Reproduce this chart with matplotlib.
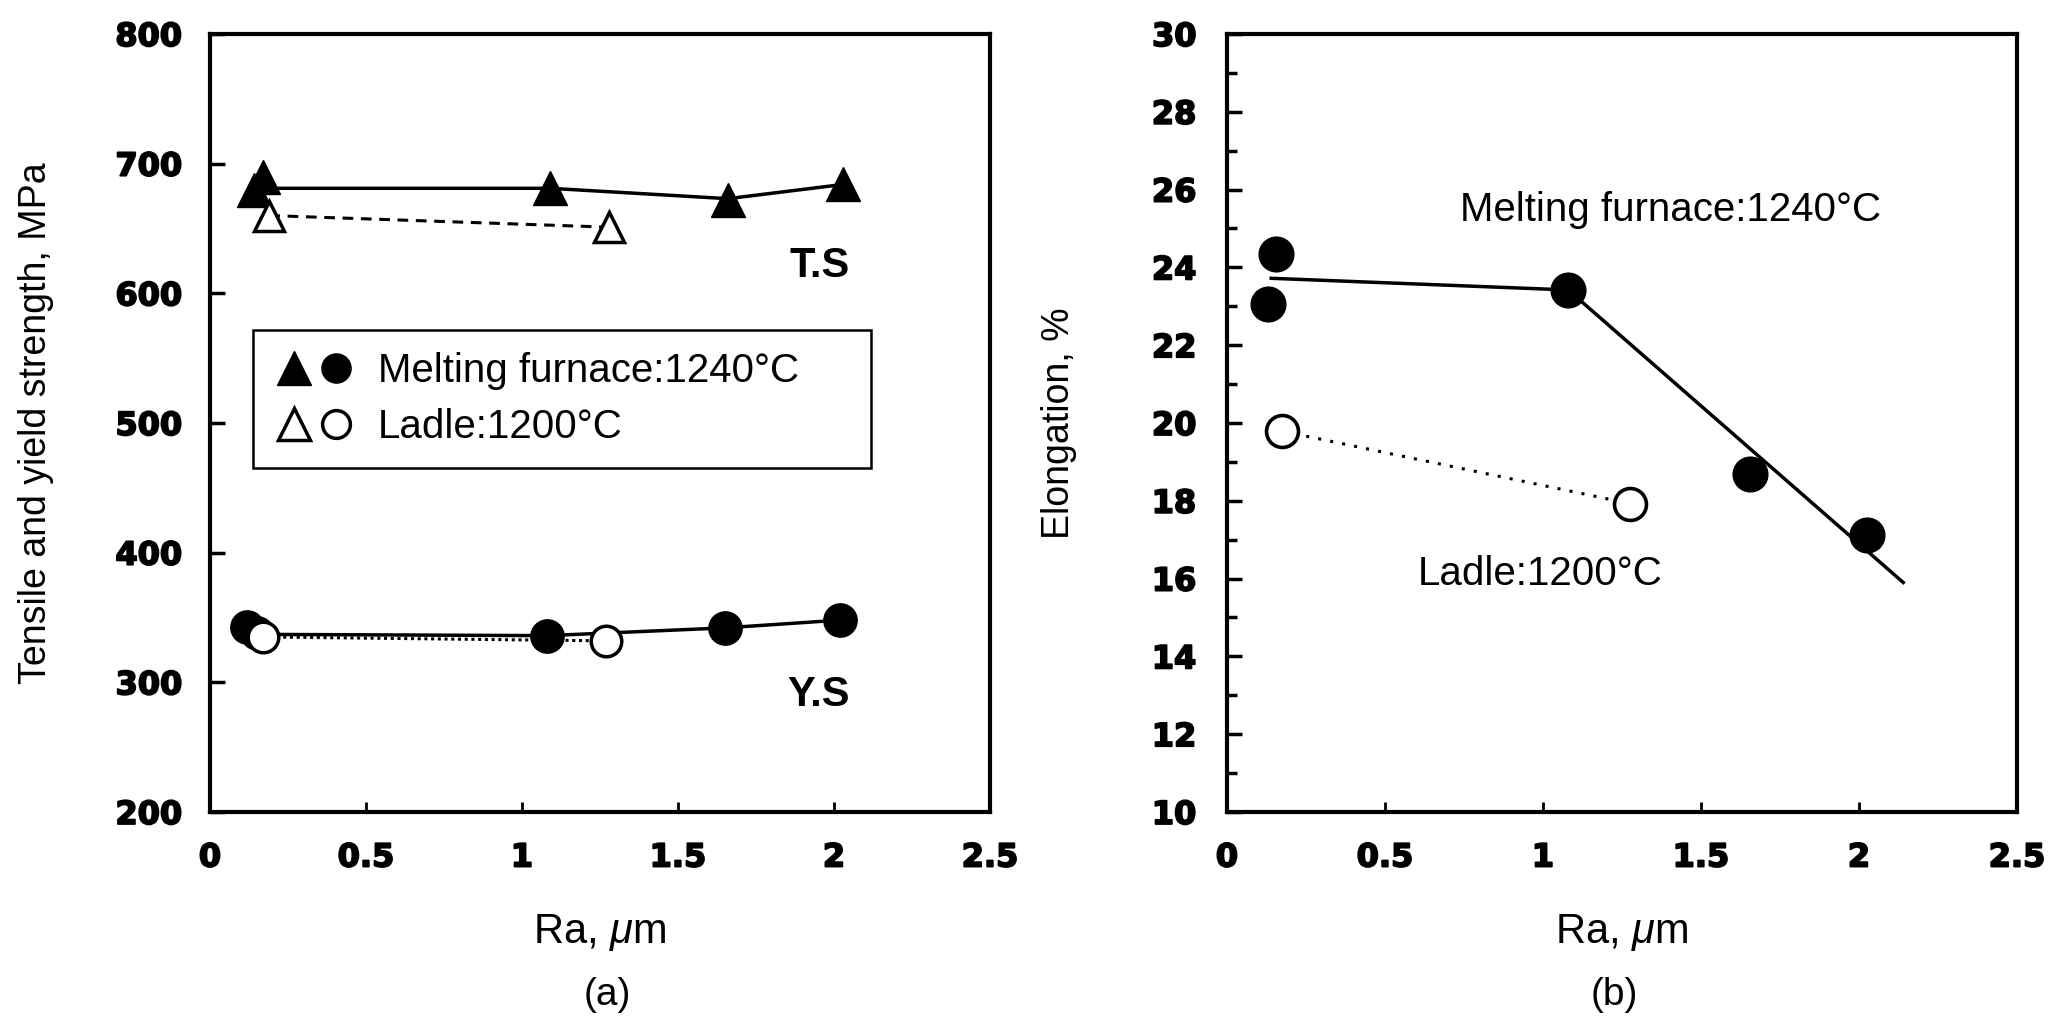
import matplotlib
matplotlib.use('Agg')
import matplotlib.pyplot as plt
import matplotlib.patheffects as pe
from matplotlib.lines import Line2D
from matplotlib.legend_handler import HandlerTuple
from matplotlib.ticker import MultipleLocator, FuncFormatter

plt.rcParams['font.family'] = ['Liberation Sans', 'DejaVu Sans']
plt.rcParams['mathtext.fontset'] = 'custom'
plt.rcParams['mathtext.rm'] = 'Liberation Sans'
plt.rcParams['mathtext.it'] = 'Liberation Sans:italic'

# ---------------- data ----------------
# (a) tensile strength
ts_furnace_x = [0.14, 0.17, 1.09, 1.66, 2.03]
ts_furnace = [680, 690, 681, 672, 684]
ts_furnace_line_x = [0.16, 1.09, 1.66, 2.03]
ts_furnace_line = [681, 681, 673, 684]
ts_ladle_x = [0.19, 1.28]
ts_ladle = [660, 651]
# (a) yield strength
ys_furnace_x = [0.12, 0.15, 1.08, 1.65, 2.02]
ys_furnace = [343, 338, 336, 342, 348]
ys_furnace_line_x = [0.15, 1.08, 1.65, 2.02]
ys_furnace_line = [337, 336, 342, 348]
ys_ladle_x = [0.17, 1.27]
ys_ladle = [335, 332]
# (b) elongation
el_furnace_x = [0.13, 0.155, 1.08, 1.655, 2.025]
el_furnace = [23.05, 24.35, 23.42, 18.68, 17.13]
el_furnace_line_x = [0.14, 1.08, 2.14]
el_furnace_line = [23.72, 23.42, 15.9]
el_ladle_x = [0.175, 1.275]
el_ladle = [19.79, 17.93]

x_ticks = [0, 0.5, 1, 1.5, 2, 2.5]
ya_ticks = [200, 300, 400, 500, 600, 700, 800]
yb_ticks = [10, 12, 14, 16, 18, 20, 22, 24, 26, 28, 30]

legend_labels = ['Melting furnace:1240\u00b0C', 'Ladle:1200\u00b0C']

# ---------------- figure ----------------
W, H = 2054, 1018
fig = plt.figure(figsize=(W / 100, H / 100), dpi=100)

axa = fig.add_axes([210 / W, 1 - 812 / H, 780 / W, 778 / H])
axb = fig.add_axes([1227 / W, 1 - 812 / H, 790 / W, 778 / H])

TXT = 28
fmt = FuncFormatter(lambda v, p: f'{v:g}')
heavy = [pe.withStroke(linewidth=1.3, foreground='black')]


def style_ticklabels(ax):
    for lab in ax.get_xticklabels() + ax.get_yticklabels():
        lab.set_fontfamily('DejaVu Sans')
        lab.set_fontweight('bold')
        lab.set_fontsize(23)
        lab.set_path_effects(heavy)


for ax in (axa, axb):
    for s in ax.spines.values():
        s.set_linewidth(3)
    ax.set_xlim(0, 2.5)
    ax.set_xticks(x_ticks)
    ax.xaxis.set_major_formatter(fmt)
    ax.tick_params(axis='x', which='major', direction='in', length=7, width=2,
                   pad=22, top=False)
    ax.tick_params(axis='y', which='major', direction='in', length=11, width=2.5,
                   pad=20, right=False)
    ax.tick_params(axis='y', which='minor', direction='in', length=7, width=2.5,
                   right=False)

# ----- panel (a) -----
axa.set_ylim(200, 800)
axa.set_yticks(ya_ticks)
style_ticklabels(axa)

axa.plot(ts_furnace_line_x, ts_furnace_line, color='black', lw=2.5, zorder=2)
axa.plot(ts_ladle_x, ts_ladle, color='black', lw=2.2, ls=(0, (3.5, 2.5)), zorder=2)
axa.plot(ys_furnace_line_x, ys_furnace_line, color='black', lw=2.5, zorder=2)
axa.plot(ys_ladle_x, ys_ladle, color='black', lw=2.2, ls=(0, (1, 1.2)), zorder=2)

axa.plot(ts_furnace_x, ts_furnace, ls='none', marker='^', ms=24, color='black',
         zorder=3)
axa.plot(ts_ladle_x, ts_ladle, ls='none', marker='^', ms=22, mfc='white',
         mec='black', mew=2.5, zorder=3)
axa.plot(ys_furnace_x, ys_furnace, ls='none', marker='o', ms=24, color='black',
         zorder=3)
axa.plot(ys_ladle_x, ys_ladle, ls='none', marker='o', ms=22, mfc='white',
         mec='black', mew=2.5, zorder=4)

axa.text(1.955, 621, 'T.S', ha='center', va='center', fontsize=30, fontweight='bold')
axa.text(1.95, 290, 'Y.S', ha='center', va='center', fontsize=30, fontweight='bold')

axa.set_ylabel('Tensile and yield strength, MPa', fontsize=27)
axa.yaxis.set_label_coords(-0.2, 0.5)
axa.set_xlabel(r'Ra, $\mu$m', fontsize=30)
axa.xaxis.set_label_coords(0.5, -0.128)
axa.text(0.51, -0.235, '(a)', transform=axa.transAxes, ha='center', va='center',
         fontsize=TXT)

h_f = (Line2D([], [], ls='none', marker='^', ms=25, color='black'),
       Line2D([], [], ls='none', marker='o', ms=21, color='black'))
h_l = (Line2D([], [], ls='none', marker='^', ms=23, mfc='white', mec='black', mew=2.5),
       Line2D([], [], ls='none', marker='o', ms=20, mfc='white', mec='black', mew=2.5))
leg = axa.legend([h_f, h_l], legend_labels,
                 handler_map={tuple: HandlerTuple(ndivide=None, pad=0.1)},
                 loc='upper left', bbox_to_anchor=(0.055, 0.40, 0.792, 0.2195),
                 mode='expand', borderaxespad=0, fontsize=29, frameon=True,
                 fancybox=False, edgecolor='black', framealpha=1, borderpad=0.55,
                 labelspacing=0.45, handlelength=2.0, handletextpad=0.55,
                 numpoints=1)
leg.get_frame().set_linewidth(1.8)

# ----- panel (b) -----
axb.set_ylim(10, 30)
axb.set_yticks(yb_ticks)
axb.yaxis.set_minor_locator(MultipleLocator(1))
style_ticklabels(axb)
axb.tick_params(axis='y', which='major', pad=22)

axb.plot(el_furnace_line_x, el_furnace_line, color='black', lw=2.5, zorder=2)
axb.plot(el_ladle_x, el_ladle, color='black', lw=2.2, ls=(0, (1, 3)), zorder=2)
axb.plot(el_furnace_x, el_furnace, ls='none', marker='o', ms=25, color='black',
         zorder=3)
axb.plot(el_ladle_x, el_ladle, ls='none', marker='o', ms=23, mfc='white',
         mec='black', mew=2.6, zorder=3)

axb.text(0.737, 25.48, legend_labels[0], ha='left', va='center', fontsize=29)
axb.text(0.604, 16.13, legend_labels[1], ha='left', va='center', fontsize=29)

axb.set_ylabel('Elongation, %', fontsize=27)
axb.yaxis.set_label_coords(-0.19, 0.5)
axb.set_xlabel(r'Ra, $\mu$m', fontsize=30)
axb.xaxis.set_label_coords(0.5, -0.128)
axb.text(0.49, -0.235, '(b)', transform=axb.transAxes, ha='center', va='center',
         fontsize=TXT)

fig.savefig('out.png', dpi=100)
